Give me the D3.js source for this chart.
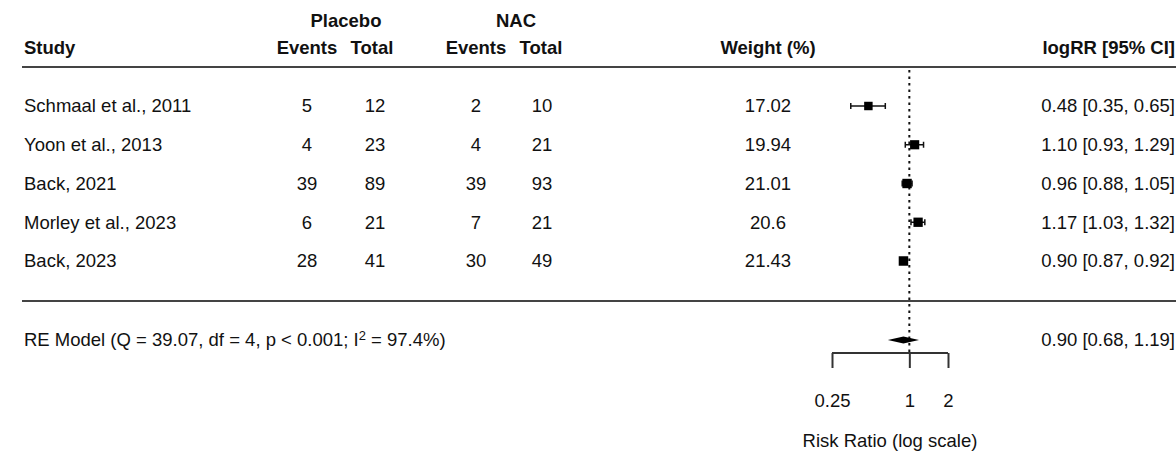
<!DOCTYPE html>
<html>
<head>
<meta charset="utf-8">
<script src="https://cdn.jsdelivr.net/npm/d3@7/dist/d3.min.js"></script>
<style>
  html, body { margin: 0; padding: 0; background: #fff; }
  svg { display: block; font-family: "Liberation Sans", Arial, sans-serif; }
</style>
</head>
<body>
<svg id="chart" width="1176" height="455"></svg>
<script>
// ---- data ----
const studies = ["Schmaal et al., 2011", "Yoon et al., 2013", "Back, 2021", "Morley et al., 2023", "Back, 2023"];
const placeboEvents = [5, 4, 39, 6, 28];
const placeboTotal = [12, 23, 89, 21, 41];
const nacEvents = [2, 4, 39, 7, 30];
const nacTotal = [10, 21, 93, 21, 49];
const weights = ["17.02", "19.94", "21.01", "20.6", "21.43"];
const rr = [0.48, 1.10, 0.96, 1.17, 0.90];
const rrLower = [0.35, 0.93, 0.88, 1.03, 0.87];
const rrUpper = [0.65, 1.29, 1.05, 1.32, 0.92];
const pooled = { est: 0.90, lower: 0.68, upper: 1.19 };
const axisTicks = [0.25, 1, 2];
const axisTickLabels = ["0.25", "1", "2"];

// ---- layout ----
const FS = 18.5;
const svg = d3.select("#chart");
const x = d3.scaleLog().domain([0.25, 2]).range([832, 948]);
const y = d3.scalePoint().domain(d3.range(studies.length)).range([106, 261]);
const yRE = 340, yAxis = 353;
const col = { study: 24, pe: 307, pt: 375, ne: 476, nt: 542, w: 768, ci: 1175 };
const fmt = d3.format(".2f");

function txt(xp, yp, s, anchor, bold) {
  return svg.append("text").attr("x", xp).attr("y", yp).attr("dy", "0.35em")
    .attr("text-anchor", anchor || "start").attr("font-size", FS)
    .attr("font-weight", bold ? "bold" : "normal").attr("fill", "#111").text(s);
}

// header
txt(col.study, 48, "Study", "start", true);
txt(346, 21, "Placebo", "middle", true);
txt(col.pe, 48, "Events", "middle", true);
txt(col.pt - 3, 48, "Total", "middle", true);
txt(516, 21, "NAC", "middle", true);
txt(col.ne, 48, "Events", "middle", true);
txt(col.nt - 1, 48, "Total", "middle", true);
txt(col.w, 48, "Weight (%)", "middle", true);
txt(col.ci, 48, "logRR [95% CI]", "end", true);

// separator lines
[67, 301].forEach(yy => svg.append("line").attr("x1", 22).attr("x2", 1176)
  .attr("y1", yy).attr("y2", yy).attr("stroke", "#444").attr("stroke-width", 2));

// reference line at 1
svg.append("line").attr("x1", x(1)).attr("x2", x(1)).attr("y1", 70).attr("y2", yAxis)
  .attr("stroke", "#111").attr("stroke-width", 2).attr("stroke-dasharray", "2.5,4");

// rows
studies.forEach((s, i) => {
  const yy = y(i);
  txt(col.study, yy, s, "start");
  txt(col.pe, yy, placeboEvents[i], "middle");
  txt(col.pt, yy, placeboTotal[i], "middle");
  txt(col.ne, yy, nacEvents[i], "middle");
  txt(col.nt, yy, nacTotal[i], "middle");
  txt(col.w, yy, weights[i], "middle");
  txt(col.ci, yy, fmt(rr[i]) + " [" + fmt(rrLower[i]) + ", " + fmt(rrUpper[i]) + "]", "end");
  // CI
  const g = svg.append("g").attr("stroke", "#111").attr("stroke-width", 1.5);
  g.append("line").attr("x1", x(rrLower[i])).attr("x2", x(rrUpper[i])).attr("y1", yy).attr("y2", yy);
  [rrLower[i], rrUpper[i]].forEach(v => g.append("line").attr("x1", x(v)).attr("x2", x(v))
    .attr("y1", yy - 3).attr("y2", yy + 3));
  const sz = 2.05 * Math.sqrt(+weights[i]);
  svg.append("rect").attr("x", x(rr[i]) - sz / 2).attr("y", yy - sz / 2)
    .attr("width", sz).attr("height", sz).attr("fill", "#000");
});

// RE model
const reText = svg.append("text").attr("x", col.study).attr("y", yRE).attr("dy", "0.35em")
  .attr("font-size", FS).attr("fill", "#111");
reText.append("tspan").text("RE Model (Q = 39.07, df = 4, p < 0.001; I");
reText.append("tspan").attr("font-size", FS * 0.7).attr("dy", "-0.5em").text("2");
reText.append("tspan").attr("dy", "0.3em").text(" = 97.4%)");
txt(col.ci, yRE, fmt(pooled.est) + " [" + fmt(pooled.lower) + ", " + fmt(pooled.upper) + "]", "end");
svg.append("polygon").attr("points", [
  [x(pooled.lower), yRE], [x(pooled.est), yRE - 3.5], [x(pooled.upper), yRE], [x(pooled.est), yRE + 3.5]
].map(p => p.join(",")).join(" ")).attr("fill", "#000");

// axis
const axisG = svg.append("g").attr("transform", `translate(0,${yAxis})`);
axisG.call(d3.axisBottom(x).tickValues(axisTicks).tickFormat((d, i) => axisTickLabels[i]).tickSize(15).tickPadding(26));
axisG.select(".domain").attr("stroke", "#333").attr("stroke-width", 2).attr("d", `M${x(0.25)},0H${x(2)}`);
axisG.selectAll(".tick line").attr("stroke", "#333").attr("stroke-width", 2);
axisG.selectAll(".tick text").attr("font-size", FS).attr("fill", "#111")
  .attr("font-family", "'Liberation Sans', Arial, sans-serif");
svg.append("text").attr("x", (x(0.25) + x(2)) / 2).attr("y", 441).attr("dy", "0.35em")
  .attr("text-anchor", "middle").attr("font-size", FS).attr("fill", "#111").text("Risk Ratio (log scale)");
</script>
</body>
</html>
